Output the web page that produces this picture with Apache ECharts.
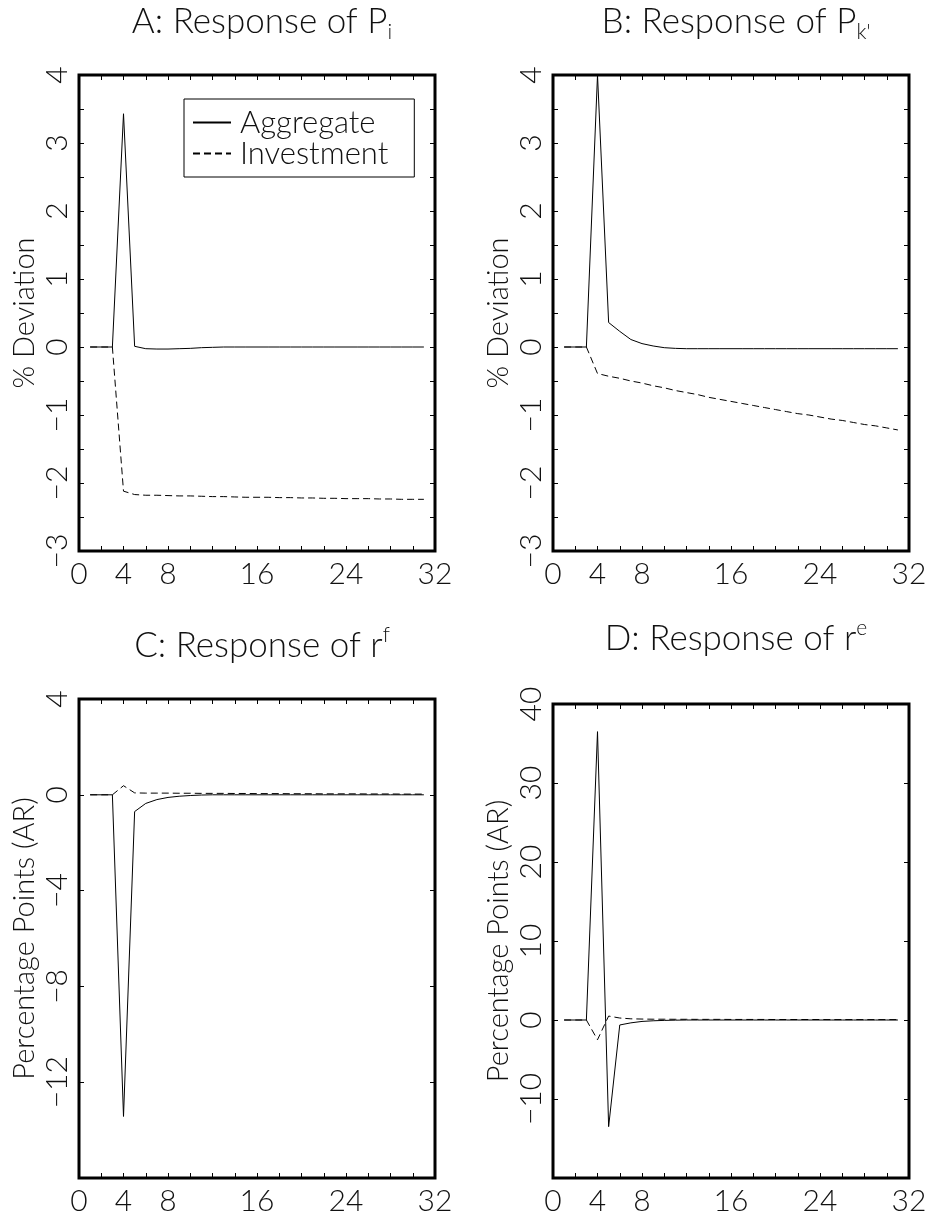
<!DOCTYPE html>
<html>
<head>
<meta charset="utf-8">
<script src="https://cdn.jsdelivr.net/npm/echarts@6/dist/echarts.min.js"></script>
<style>
  html, body { margin: 0; padding: 0; background: #fff; }
  #chart { width: 933px; height: 1217px; }
</style>
</head>
<body>
<div id="chart"></div>
<script>
// periods after the shock
var periods = [1, 2, 3, 4, 5, 6, 7, 8, 9, 10, 11, 12, 13, 14, 15, 16, 17, 18, 19, 20, 21, 22, 23, 24, 25, 26, 27, 28, 29, 30, 31];

// A: response of P_i (% deviation)
var aggA = [0, 0, 0, 3.43, 0.01, -0.025, -0.03, -0.03, -0.025, -0.02, -0.01, -0.005, 0, 0, 0, 0, 0, 0, 0, 0, 0, 0, 0, 0, 0, 0, 0, 0, 0, 0, 0];
var invA = [0, 0, 0, -2.12, -2.17, -2.18, -2.18, -2.185, -2.19, -2.19, -2.195, -2.2, -2.2, -2.205, -2.21, -2.21, -2.21, -2.215, -2.215, -2.22, -2.22, -2.225, -2.225, -2.23, -2.23, -2.23, -2.235, -2.235, -2.24, -2.24, -2.24];

// B: response of P_k' (% deviation)
var aggB = [0, 0, 0, 4.0, 0.36, 0.23, 0.11, 0.05, 0.015, -0.01, -0.02, -0.025, -0.025, -0.025, -0.025, -0.025, -0.025, -0.025, -0.025, -0.025, -0.025, -0.025, -0.025, -0.025, -0.025, -0.025, -0.025, -0.025, -0.025, -0.025, -0.025];
var invB = [0, 0, 0, -0.39, -0.43, -0.46, -0.50, -0.53, -0.57, -0.60, -0.64, -0.67, -0.70, -0.74, -0.77, -0.80, -0.83, -0.86, -0.89, -0.92, -0.95, -0.98, -1.00, -1.03, -1.06, -1.08, -1.11, -1.14, -1.16, -1.19, -1.22];

// C: response of r^f (percentage points, AR)
var aggC = [0, 0, 0, -13.43, -0.7, -0.36, -0.2, -0.11, -0.06, -0.03, -0.01, 0, 0, 0, 0, 0, 0, 0, 0, 0, 0, 0, 0, 0, 0, 0, 0, 0, 0, 0, 0];
var invC = [0, 0, 0, 0.38, 0.08, 0.07, 0.07, 0.07, 0.065, 0.065, 0.06, 0.06, 0.06, 0.055, 0.055, 0.05, 0.05, 0.05, 0.045, 0.045, 0.045, 0.04, 0.04, 0.04, 0.04, 0.035, 0.035, 0.035, 0.03, 0.03, 0.03];

// D: response of r^e (percentage points, AR)
var aggD = [0, 0, 0, 36.5, -13.5, -0.63, -0.36, -0.18, -0.1, -0.05, -0.02, 0, 0, 0, 0, 0, 0, 0, 0, 0, 0, 0, 0, 0, 0, 0, 0, 0, 0, 0, 0];
var invD = [0, 0, 0, -2.5, 0.5, 0.25, 0.15, 0.12, 0.1, 0.1, 0.09, 0.09, 0.08, 0.08, 0.08, 0.07, 0.07, 0.07, 0.07, 0.06, 0.06, 0.06, 0.06, 0.06, 0.05, 0.05, 0.05, 0.05, 0.05, 0.05, 0.05];

var xLabels = [0, 4, 8, 16, 24, 32];
var yLabelsAB = [-3, -2, -1, 0, 1, 2, 3, 4];
var yLabelsC = [-12, -8, -4, 0, 4];
var yLabelsD = [-10, 0, 10, 20, 30, 40];

var FONT = 'Lato';
var INK = '#111';

function pairs(vals) {
    return periods.map(function(p, i) { return [p, vals[i]]; });
}
function fmt(v) {
    return v < 0 ? '\u2212' + Math.abs(v) : String(v);
}

var grids = [
    { left: 79, top: 75, width: 356, height: 476 },
    { left: 553, top: 75, width: 356, height: 476 },
    { left: 79, top: 699, width: 356, height: 479 },
    { left: 553, top: 704, width: 356, height: 474 }
];
var yRanges = [
    { min: -3, max: 4, interval: 0.5, labels: yLabelsAB, name: '% Deviation' },
    { min: -3, max: 4, interval: 0.5, labels: yLabelsAB, name: '% Deviation' },
    { min: -16, max: 4, interval: 4, labels: yLabelsC, name: 'Percentage Points (AR)' },
    { min: -20, max: 40, interval: 10, labels: yLabelsD, name: 'Percentage Points (AR)' }
];

var tick = { inside: true, length: 5, lineStyle: { color: '#000', width: 1 } };
var xAxes = [], yAxes = [];
grids.forEach(function(g, i) {
    g.show = true;
    g.borderColor = '#000';
    g.borderWidth = 3;
    g.backgroundColor = 'transparent';
    // bottom axis with labels
    xAxes.push({
        type: 'value', gridIndex: i, min: 0, max: 32, interval: 2, position: 'bottom',
        axisLine: { show: false, onZero: false },
        axisTick: tick,
        splitLine: { show: false },
        axisLabel: {
            margin: 8, fontFamily: FONT, fontWeight: 300, fontSize: 30, color: INK,
            formatter: function(v) { return xLabels.indexOf(v) >= 0 ? String(v) : ''; }
        }
    });
    // top mirror ticks
    xAxes.push({
        type: 'value', gridIndex: i, min: 0, max: 32, interval: 2, position: 'top',
        axisLine: { show: false, onZero: false },
        axisTick: tick,
        splitLine: { show: false },
        axisLabel: { show: false }
    });
    var r = yRanges[i];
    yAxes.push({
        type: 'value', gridIndex: i, min: r.min, max: r.max, interval: r.interval, position: 'left',
        name: r.name, nameLocation: 'middle', nameGap: 40,
        nameTextStyle: { fontFamily: FONT, fontWeight: 300, fontSize: 29, color: INK },
        axisLine: { show: false, onZero: false },
        axisTick: tick,
        splitLine: { show: false },
        axisLabel: {
            rotate: 90, margin: 7, fontFamily: FONT, fontWeight: 300, fontSize: 30, color: INK,
            formatter: (function(labels) {
                return function(v) { return labels.indexOf(v) >= 0 ? fmt(v) : ''; };
            })(r.labels)
        }
    });
    yAxes.push({
        type: 'value', gridIndex: i, min: r.min, max: r.max, interval: r.interval, position: 'right',
        axisLine: { show: false, onZero: false },
        axisTick: tick,
        splitLine: { show: false },
        axisLabel: { show: false }
    });
});

var seriesData = [[aggA, invA], [aggB, invB], [aggC, invC], [aggD, invD]];
var series = [];
seriesData.forEach(function(pair, i) {
    series.push({
        name: 'Aggregate', type: 'line', xAxisIndex: i * 2, yAxisIndex: i * 2,
        data: pairs(pair[0]), symbol: 'none', silent: true, animation: false,
        lineStyle: { color: '#000', width: 1, type: 'solid' }, itemStyle: { color: '#000' }
    });
    series.push({
        name: 'Investment', type: 'line', xAxisIndex: i * 2, yAxisIndex: i * 2,
        data: pairs(pair[1]), symbol: 'none', silent: true, animation: false,
        lineStyle: { color: '#000', width: 1, type: [7, 4] }, itemStyle: { color: '#000' }
    });
});

var titleRich = {
    sub: { fontFamily: FONT, fontWeight: 300, fontSize: 21, lineHeight: 20, color: INK, verticalAlign: 'bottom' },
    sup: { fontFamily: FONT, fontWeight: 300, fontSize: 21, lineHeight: 20, color: INK, verticalAlign: 'top' }
};
function mkTitle(text, cx, top) {
    return {
        text: text, left: cx, top: top, textAlign: 'center',
        textStyle: { fontFamily: FONT, fontWeight: 300, fontSize: 35, lineHeight: 42, color: INK, rich: titleRich }
    };
}

var option = {
    backgroundColor: '#fff',
    animation: false,
    title: [
        mkTitle('A: Response of P{sub|i}', 257, -4),
        mkTitle("B: Response of P{sub|k'}", 731, -4),
        mkTitle('C: Response of r{sup|f}', 257, 620),
        mkTitle('D: Response of r{sup|e}', 731, 613)
    ],
    legend: {
        data: ['Aggregate', 'Investment'],
        orient: 'vertical', left: 184, top: 99,
        backgroundColor: '#fff', borderColor: '#000', borderWidth: 1, borderRadius: 0,
        padding: [8, 26, 8, 8], itemGap: 0, itemWidth: 38, itemHeight: 14,
        selectedMode: false,
        itemStyle: { opacity: 0, borderWidth: 0 },
        textStyle: { fontFamily: FONT, fontWeight: 300, fontSize: 31, lineHeight: 30, color: INK, padding: [0, 0, 0, 4] }
    },
    grid: grids,
    xAxis: xAxes,
    yAxis: yAxes,
    series: series
};

var chart = echarts.init(document.getElementById('chart'));
chart.setOption(option);
</script>
</body>
</html>
